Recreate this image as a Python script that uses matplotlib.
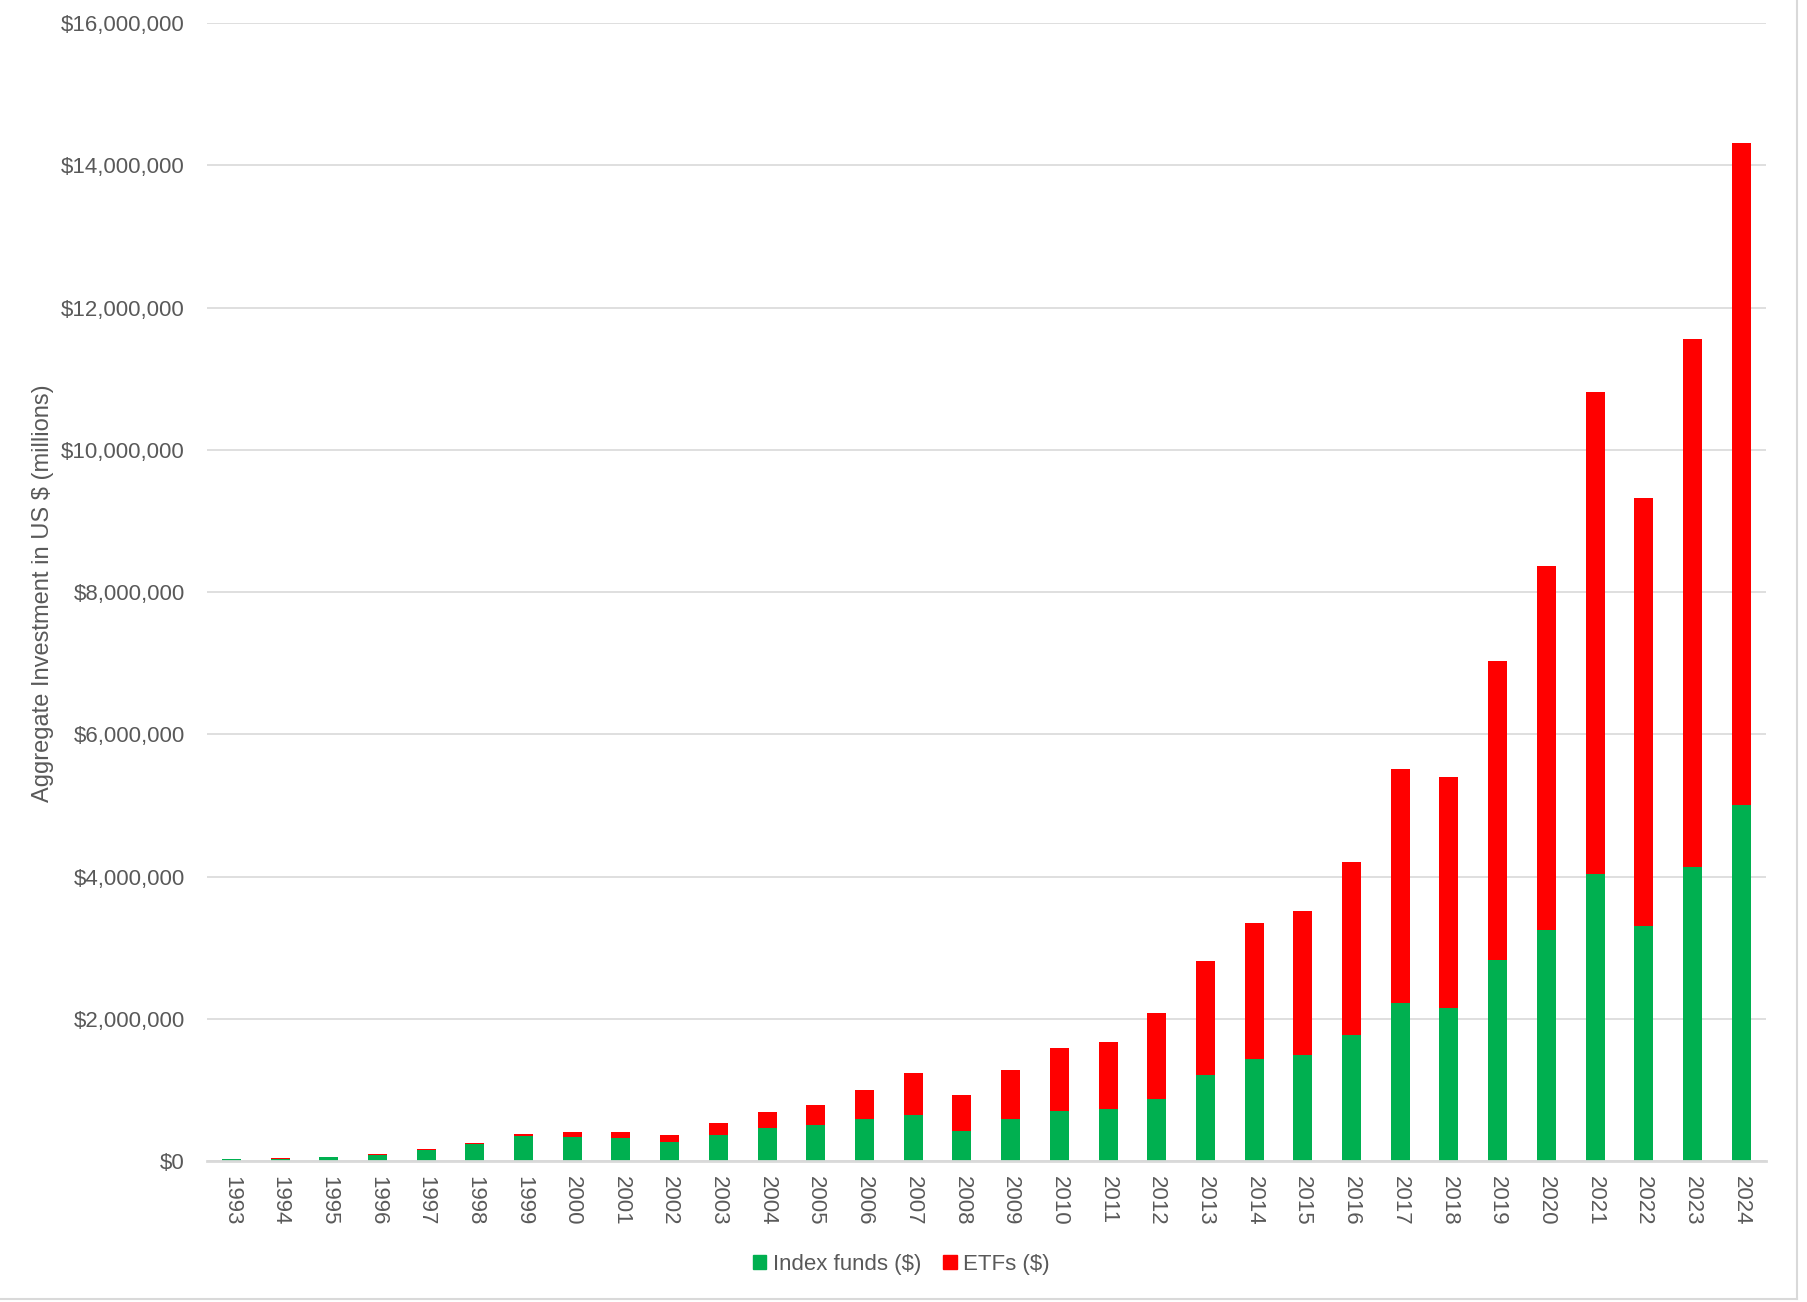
import matplotlib
matplotlib.use("Agg")
from matplotlib import pyplot as plt
from matplotlib.lines import Line2D
from matplotlib.patches import Patch
from matplotlib.ticker import FuncFormatter, MultipleLocator
import numpy as np

# Datos (US $ millones)
years = [str(y) for y in range(1993, 2025)]
index_funds = [26000, 28000, 50000, 82000, 155000, 235000, 347000, 333000,
               319000, 264000, 372000, 460000, 501000, 586000, 643000, 426000,
               586000, 700000, 728000, 870000, 1207000, 1432000, 1488000,
               1770000, 2221000, 2155000, 2825000, 3241000, 4042000, 3311000,
               4131000, 5012000]
etfs = [8000, 8000, 6000, 12000, 14000, 14000, 29000, 71000,
        85000, 97000, 156000, 223000, 293000, 407000, 591000, 496000,
        691000, 889000, 946000, 1213000, 1605000, 1915000, 2028000,
        2437000, 3295000, 3249000, 4205000, 5126000, 6772000, 6011000,
        7432000, 9295000]

plt.rcParams['font.family'] = ['Liberation Sans Narrow', 'Liberation Sans', 'DejaVu Sans']
text_color = '#595959'
grid_color = '#D9D9D9'
green = '#00B050'
red = '#FF0000'

fig = plt.figure(figsize=(18.08, 13.02), dpi=100)
ax = fig.add_axes([0.1145, 0.1083, 0.8620, 0.874])

x = np.arange(len(years))
ax.bar(x, index_funds, width=0.39, color=green, label='Index funds ($)', zorder=3)
ax.bar(x, etfs, width=0.39, bottom=index_funds, color=red, label='ETFs ($)', zorder=3)

ax.set_xlim(-0.5, len(years) - 0.5)
ax.set_ylim(0, 16_000_000)
ax.yaxis.set_major_locator(MultipleLocator(2_000_000))
ax.yaxis.set_major_formatter(FuncFormatter(lambda v, p: f"${v:,.0f}"))
ax.grid(True, axis='y', color=grid_color, linewidth=1.2, zorder=0)

ax.set_xticks(x)
ax.set_xticklabels(years, rotation=-90)
ax.tick_params(axis='both', length=0, labelsize=16, labelcolor=text_color)
ax.tick_params(axis='x', pad=11)
ax.tick_params(axis='y', pad=16)

for side in ['top', 'right', 'left']:
    ax.spines[side].set_visible(False)
ax.spines['bottom'].set_color(grid_color)
ax.spines['bottom'].set_linewidth(2)
ax.spines['bottom'].set_zorder(4)

fig.text(43 / 1808, 0.5446, 'Aggregate Investment in US $ (millions)',
         rotation=90, ha='center', va='center', fontsize=17, color=text_color)

# Leyenda
handles = [Patch(color=green), Patch(color=red)]
fig.legend(handles, ['Index funds ($)', 'ETFs ($)'], loc='center',
           bbox_to_anchor=(0.4985, 0.029), ncol=2, frameon=False, fontsize=16,
           labelcolor=text_color, handlelength=0.6, handleheight=0.6,
           handletextpad=0.3, columnspacing=1.0)

# Borde del gráfico
fig.add_artist(Line2D([0, 0.9939], [0.0023, 0.0023], transform=fig.transFigure,
                      color=grid_color, linewidth=1.5))
fig.add_artist(Line2D([0.9939, 0.9939], [0.0023, 1], transform=fig.transFigure,
                      color=grid_color, linewidth=1.5))

fig.savefig('out.png', dpi=100)
